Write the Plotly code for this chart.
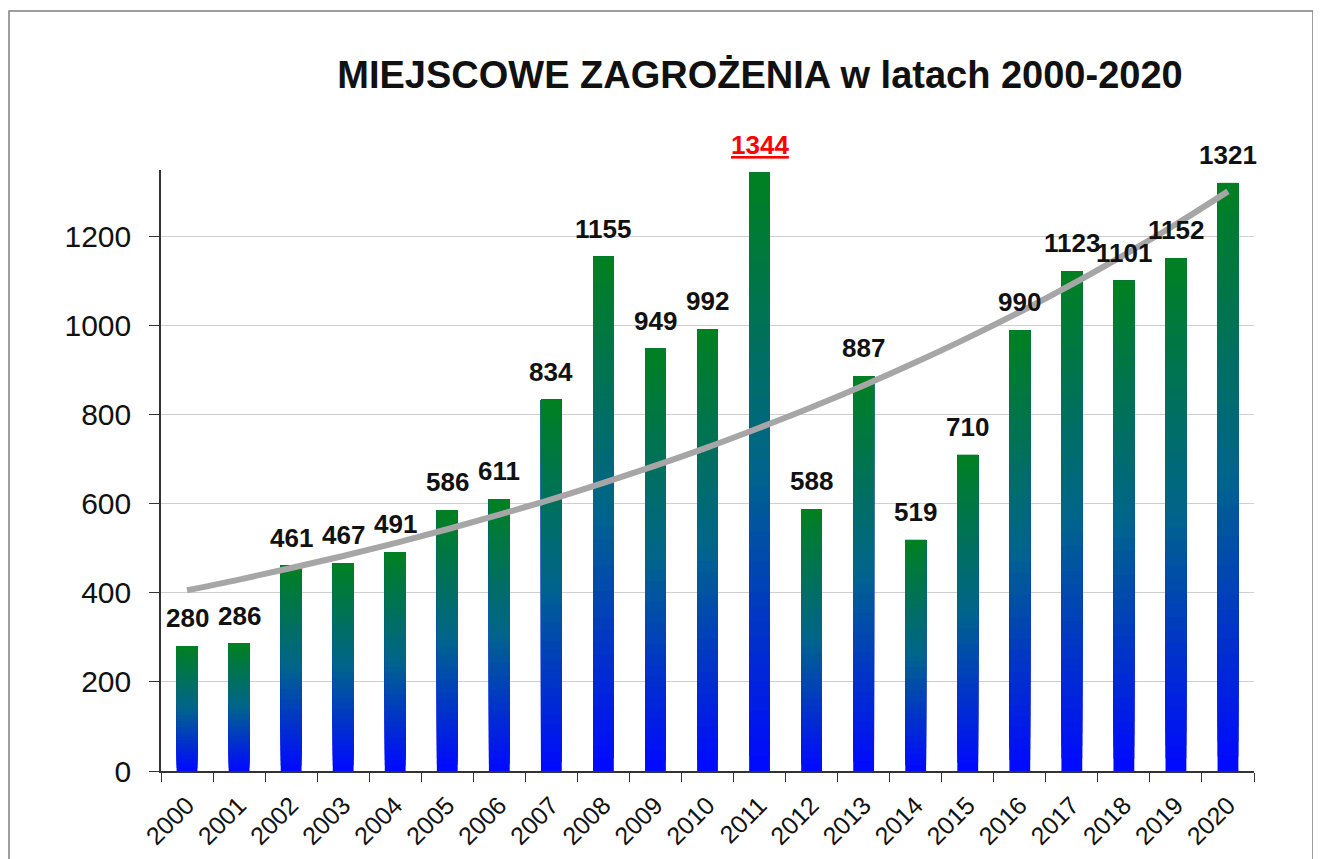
"""Local hazards (miejscowe zagrożenia) per year, 2000-2020, with a trend line."""
import plotly.graph_objects as go

YEARS: list[str] = [str(y) for y in range(2000, 2021)]
"""Category labels."""

HAZARDS: list[int] = [
    280, 286, 461, 467, 491, 586, 611, 834, 1155, 949, 992,
    1344, 588, 887, 519, 710, 990, 1123, 1101, 1152, 1321
]
"""Number of local hazards per year."""

TREND: list[int] = [
    406, 430, 456, 483, 512, 543, 576, 610, 647, 686, 727,
    771, 817, 866, 918, 973, 1031, 1093, 1159, 1228, 1302
]
"""Trend line values read off the chart."""

MAX_YEAR: str = "2011"
"""Year highlighted in red."""

# Gradient stops, bottom (blue) to top (green)
STOPS = [(0.0, (0, 8, 255)), (0.5, (0, 100, 140)), (1.0, (0, 128, 32))]
SEGMENTS = 40
FONT = "Liberation Sans, Arial, sans-serif"

# The page body adds an 8 px margin, so the figure is 8 px smaller
WIDTH, HEIGHT = 1313, 851
LEFT, RIGHT, TOP, BOTTOM = 153, 67, 162, 88


def gradient_color(t: float) -> str:
    """Interpolate a colour along the bar gradient."""
    for (t0, c0), (t1, c1) in zip(STOPS[:-1], STOPS[1:]):
        if t <= t1:
            f = (t - t0) / (t1 - t0)
            rgb = [round(a + (b - a) * f) for a, b in zip(c0, c1)]
            return f"rgb({rgb[0]},{rgb[1]},{rgb[2]})"
    c = STOPS[-1][1]
    return f"rgb({c[0]},{c[1]},{c[2]})"


fig = go.Figure()

# Bars drawn as overlapping slices (each reaching the top) so the gradient has no seams
for k in range(SEGMENTS):
    fig.add_trace(go.Bar(
        x=YEARS,
        y=[v * (SEGMENTS - k) / SEGMENTS for v in HAZARDS],
        base=[v * k / SEGMENTS for v in HAZARDS],
        width=0.4,
        marker={"color": gradient_color((k + 0.5) / SEGMENTS), "line": {"width": 0}},
        showlegend=False,
        hoverinfo="skip"
    ))

# Trend line
fig.add_trace(go.Scatter(
    x=YEARS, y=TREND, mode="lines",
    line={"color": "#A6A6A6", "width": 6, "shape": "spline"},
    showlegend=False, hoverinfo="skip"
))

# Value labels (x given as category index)
for i, (year, value) in enumerate(zip(YEARS, HAZARDS)):
    is_max = year == MAX_YEAR
    fig.add_annotation(
        x=i, y=value, xref="x", yref="y",
        text=f"<b><u>{value}</u></b>" if is_max else f"<b>{value}</b>",
        showarrow=False, yanchor="bottom", yshift=11,
        font={"family": FONT, "size": 26, "color": "#FF0000" if is_max else "#111111"}
    )

plot_w = WIDTH - LEFT - RIGHT
plot_h = HEIGHT - TOP - BOTTOM

fig.update_layout(
    width=WIDTH, height=HEIGHT,
    barmode="overlay",
    paper_bgcolor="white", plot_bgcolor="white",
    margin={"l": LEFT, "r": RIGHT, "t": TOP, "b": BOTTOM, "autoexpand": False},
    font={"family": FONT, "color": "#111111"},
    title={
        "text": "<b>MIEJSCOWE ZAGROŻENIA w latach 2000-2020</b>",
        "x": 752 / WIDTH, "xanchor": "center", "xref": "container",
        "y": 1 - 67 / HEIGHT, "yanchor": "middle", "yref": "container",
        "font": {"size": 38, "color": "#111111", "family": FONT}
    },
    shapes=[{
        "type": "rect", "xref": "paper", "yref": "paper",
        "x0": (1 - LEFT) / plot_w, "x1": (1305 - LEFT) / plot_w,
        "y0": -0.3, "y1": (HEIGHT - BOTTOM - 3) / plot_h,
        "line": {"color": "#7F7F7F", "width": 1.5}
    }]
)
fig.update_xaxes(
    type="category", range=[-0.5, len(YEARS) - 0.5],
    showline=True, linecolor="#333333", linewidth=1.5,
    ticks="outside", tickson="boundaries", ticklen=9, tickcolor="#333333",
    tickangle=-45, ticklabelstandoff=8,
    tickfont={"size": 25, "family": FONT, "color": "#111111"},
    showgrid=False
)
fig.update_yaxes(
    range=[0, 1350], dtick=200,
    showline=True, linecolor="#333333", linewidth=1.5,
    ticks="outside", ticklen=10, tickcolor="#333333",
    ticklabelstandoff=12,
    tickfont={"size": 30, "family": FONT, "color": "#111111"},
    showgrid=True, gridcolor="#CFCFCF", gridwidth=1,
    zeroline=False
)

fig.write_html("out.html")
